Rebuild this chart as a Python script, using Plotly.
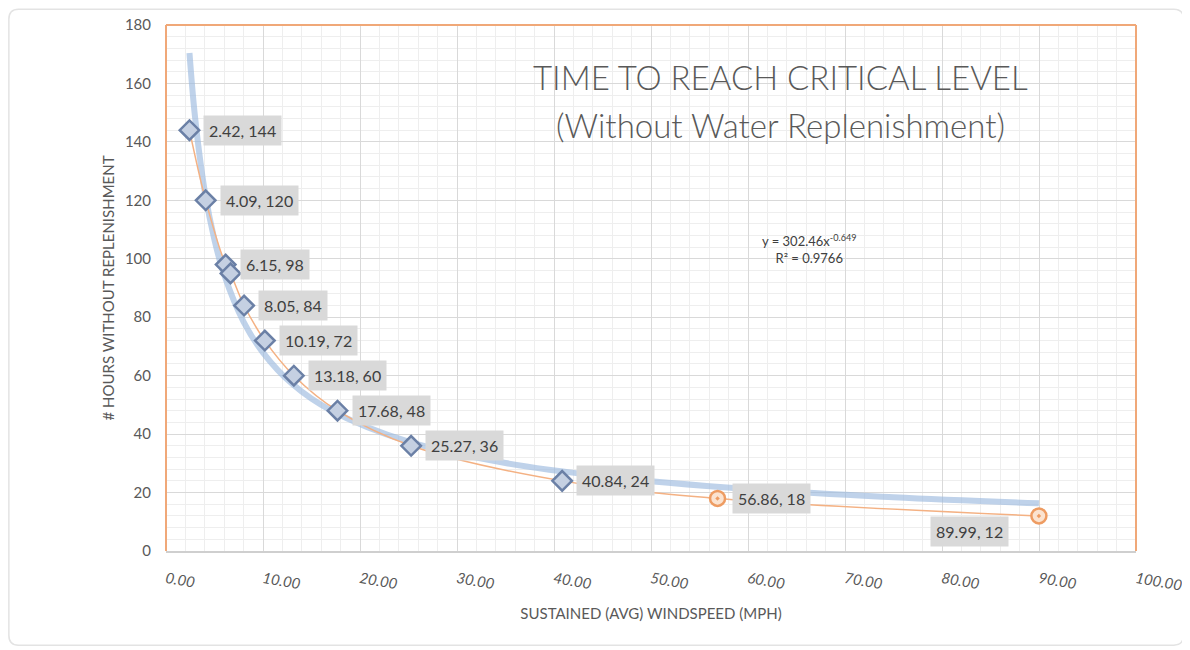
import plotly.graph_objects as go

# measured points (mph, hours)
wind_mph = [2.42, 4.09, 6.15, 6.65, 8.05, 10.19, 13.18, 17.68, 25.27, 40.84, 56.86, 89.99]
hours = [144, 120, 98, 95, 84, 72, 60, 48, 36, 24, 18, 12]
point_labels = ["2.42, 144", "4.09, 120", "6.15, 98", "", "8.05, 84", "10.19, 72",
                "13.18, 60", "17.68, 48", "25.27, 36", "40.84, 24", "56.86, 18", "89.99, 12"]
# which points are drawn with the orange circle marker
orange_pts = [False] * 10 + [True] * 2

# power trendline
trend_x = [2.42, 3, 4, 5, 6, 8, 10, 13, 17, 25, 35, 45, 60, 75, 89.99]
trend_y = [170.4, 148.3, 123.0, 106.4, 94.5, 78.4, 67.9, 57.2, 48.1, 37.4, 30.1, 25.6, 21.2, 18.4, 16.3]

x_ticks = [0, 10, 20, 30, 40, 50, 60, 70, 80, 90, 100]
y_ticks = [0, 20, 40, 60, 80, 100, 120, 140, 160, 180]

GREY = "#595959"
FONT = "Lato, 'Open Sans', sans-serif"

fig = go.Figure()

fig.add_trace(go.Scatter(
    x=trend_x, y=trend_y, mode="lines", line=dict(color="#9dbbe0", width=6, shape="spline"),
    opacity=0.65, hoverinfo="skip", showlegend=False))

fig.add_trace(go.Scatter(
    x=wind_mph, y=hours, mode="lines", line=dict(color="#f4b183", width=1.5, shape="spline"),
    showlegend=False))

blue_x = [x for x, o in zip(wind_mph, orange_pts) if not o]
blue_y = [y for y, o in zip(hours, orange_pts) if not o]
fig.add_trace(go.Scatter(
    x=blue_x, y=blue_y, mode="markers",
    marker=dict(symbol="diamond", size=15, color="#c5d0e2", line=dict(color="#6b80a6", width=2.5)),
    showlegend=False))

org_x = [x for x, o in zip(wind_mph, orange_pts) if o]
org_y = [y for y, o in zip(hours, orange_pts) if o]
fig.add_trace(go.Scatter(
    x=org_x, y=org_y, mode="markers",
    marker=dict(symbol="circle-dot", size=15, color="#fbe3d0", line=dict(color="#ee9c62", width=2.5)),
    showlegend=False))

annotations = []
for i, (x, y, t) in enumerate(zip(wind_mph, hours, point_labels)):
    if not t:
        continue
    last = i == len(wind_mph) - 1
    annotations.append(dict(
        x=x, y=y, text=t, showarrow=False,
        xanchor="right" if last else "left",
        xshift=-30 if last else 14, yshift=-16 if last else 0,
        bgcolor="#d9d9d9", borderpad=5,
        font=dict(family=FONT, size=16, color="#404040")))

annotations += [
    dict(xref="paper", yref="paper", x=0.633, y=0.901, yanchor="middle",
         text="TIME TO REACH CRITICAL LEVEL",
         showarrow=False, font=dict(family=FONT, size=33, color=GREY, weight=300)),
    dict(xref="paper", yref="paper", x=0.633, y=0.810, yanchor="middle",
         text="(Without Water Replenishment)",
         showarrow=False, font=dict(family=FONT, size=33, color=GREY, weight=300)),
    dict(xref="paper", yref="paper", x=0.713, y=0.574, yanchor="middle",
         text="y = 302.46x<sup>-0.649</sup><br>R² = 0.9766", showarrow=False, align="center",
         font=dict(family=FONT, size=13, color="#404040")),
]

# rounded card outline (paper coords relative to the plot area)
card = ("M -0.152,1.03 L 1.039,1.03 Q 1.049,1.03 1.049,1.011 L 1.049,-0.16 "
        "Q 1.049,-0.179 1.039,-0.179 L -0.152,-0.179 Q -0.162,-0.179 -0.162,-0.16 "
        "L -0.162,1.011 Q -0.162,1.03 -0.152,1.03 Z")

fig.update_layout(
    width=1190, height=650,
    margin=dict(l=158, r=62, t=17, b=107),
    paper_bgcolor="white", plot_bgcolor="white",
    font=dict(family=FONT, color=GREY),
    annotations=annotations,
    shapes=[
        dict(type="path", xref="paper", yref="paper", layer="below", path=card,
             line=dict(color="#e3e3e3", width=1.5)),
        # orange plot border on top, left, right
        dict(type="line", xref="paper", yref="paper", x0=0, x1=1, y0=1, y1=1,
             line=dict(color="#f0a878", width=2)),
        dict(type="line", xref="paper", yref="paper", x0=0, x1=0, y0=0, y1=1,
             line=dict(color="#f0a878", width=2)),
        dict(type="line", xref="paper", yref="paper", x0=1, x1=1, y0=0, y1=1,
             line=dict(color="#f0a878", width=2)),
    ],
    xaxis=dict(
        range=[0, 100], tickvals=x_ticks, ticktext=[f"{v:.2f}" for v in x_ticks],
        tickangle=10, ticklabelstandoff=12, automargin=False,
        tickfont=dict(family=FONT, size=15, color=GREY, style="italic"),
        showgrid=True, gridcolor="#d9d9d9", gridwidth=1,
        minor=dict(dtick=2, showgrid=True, gridcolor="#eeeeee"),
        showline=True, linecolor="#cfcfcf", linewidth=1.5, zeroline=False,
        title=dict(text="SUSTAINED (AVG) WINDSPEED (MPH)", standoff=16,
                   font=dict(family=FONT, size=15, color=GREY)),
    ),
    yaxis=dict(
        range=[0, 180], tickvals=y_ticks, automargin=False,
        tickfont=dict(family=FONT, size=15, color=GREY), ticklabelstandoff=14,
        showgrid=True, gridcolor="#d9d9d9", gridwidth=1,
        minor=dict(dtick=4, showgrid=True, gridcolor="#eeeeee"),
        zeroline=False, showline=False,
        title=dict(text="# HOURS WITHOUT REPLENISHMENT", standoff=6,
                   font=dict(family=FONT, size=15, color=GREY)),
    ),
)

fig.write_html("out.html")
